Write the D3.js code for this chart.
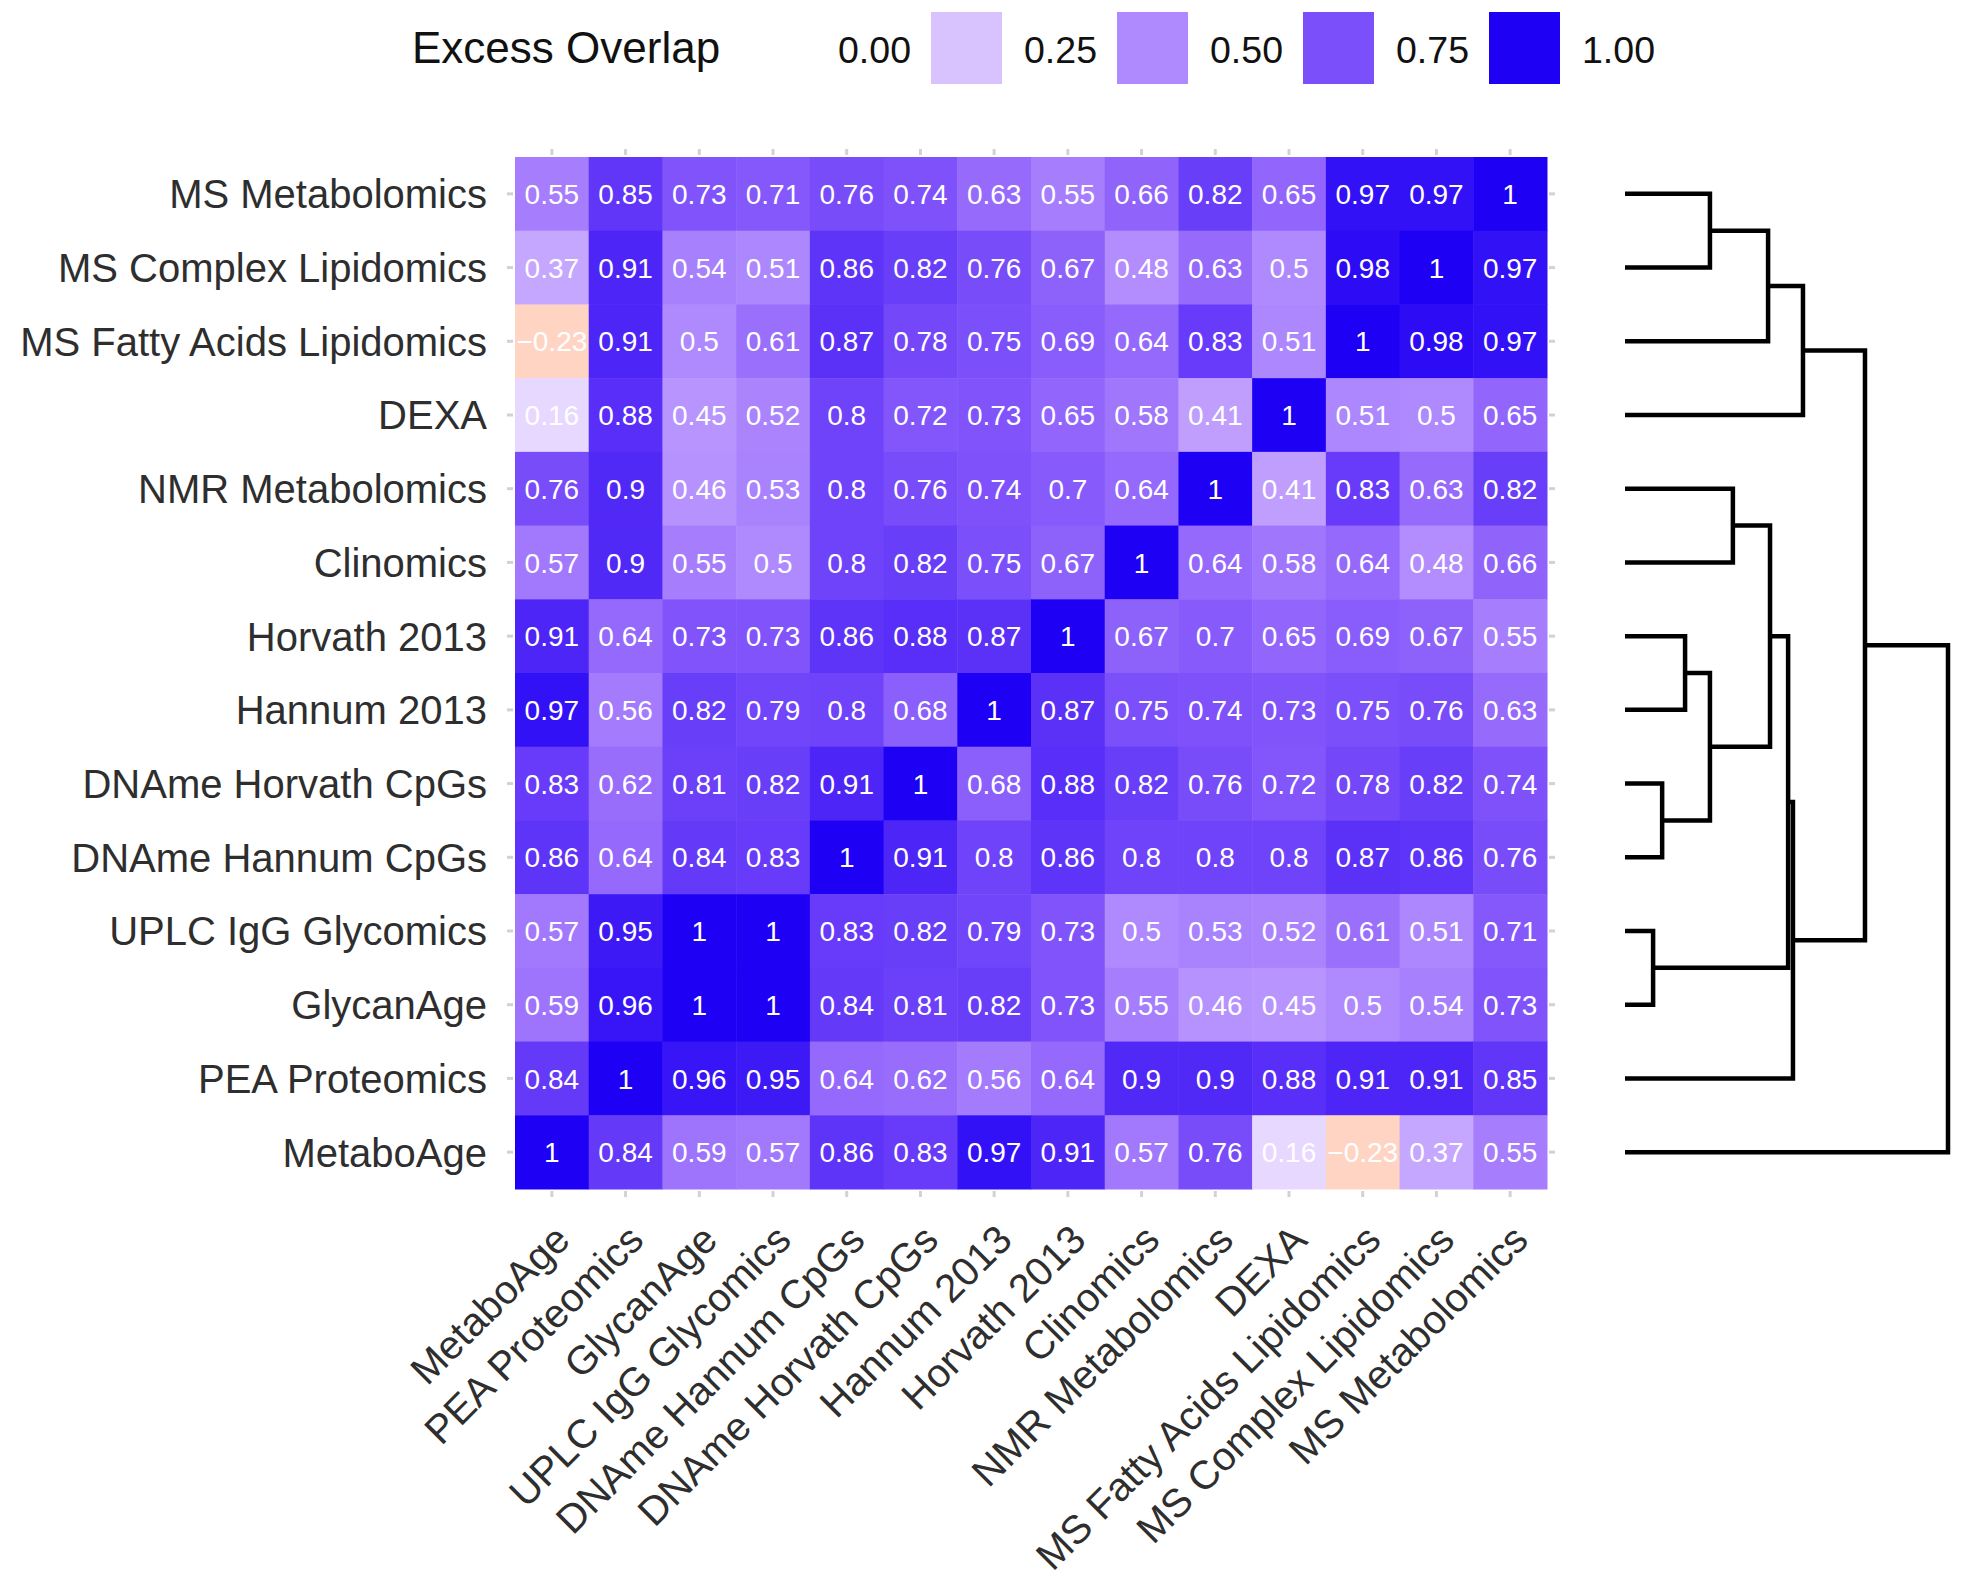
<!DOCTYPE html>
<html>
<head>
<meta charset="utf-8">
<script src="https://cdn.jsdelivr.net/npm/d3@7"></script>
<style>
  body { margin: 0; background: #fff; }
  text { font-family: "Liberation Sans", Arial, sans-serif; }
</style>
</head>
<body>
<div id="chart"></div>
<script>
// column order (x axis, left to right)
const cols = ["MetaboAge", "PEA Proteomics", "GlycanAge", "UPLC IgG Glycomics",
  "DNAme Hannum CpGs", "DNAme Horvath CpGs", "Hannum 2013", "Horvath 2013",
  "Clinomics", "NMR Metabolomics", "DEXA", "MS Fatty Acids Lipidomics",
  "MS Complex Lipidomics", "MS Metabolomics"];

// row order (y axis, top to bottom)
const rows = ["MS Metabolomics", "MS Complex Lipidomics", "MS Fatty Acids Lipidomics",
  "DEXA", "NMR Metabolomics", "Clinomics", "Horvath 2013", "Hannum 2013",
  "DNAme Horvath CpGs", "DNAme Hannum CpGs", "UPLC IgG Glycomics", "GlycanAge",
  "PEA Proteomics", "MetaboAge"];

// excess overlap, one line per row (same order as rows), values in column order
const overlap = [
  [0.55, 0.85, 0.73, 0.71, 0.76, 0.74, 0.63, 0.55, 0.66, 0.82, 0.65, 0.97, 0.97, 1],
  [0.37, 0.91, 0.54, 0.51, 0.86, 0.82, 0.76, 0.67, 0.48, 0.63, 0.5, 0.98, 1, 0.97],
  [-0.23, 0.91, 0.5, 0.61, 0.87, 0.78, 0.75, 0.69, 0.64, 0.83, 0.51, 1, 0.98, 0.97],
  [0.16, 0.88, 0.45, 0.52, 0.8, 0.72, 0.73, 0.65, 0.58, 0.41, 1, 0.51, 0.5, 0.65],
  [0.76, 0.9, 0.46, 0.53, 0.8, 0.76, 0.74, 0.7, 0.64, 1, 0.41, 0.83, 0.63, 0.82],
  [0.57, 0.9, 0.55, 0.5, 0.8, 0.82, 0.75, 0.67, 1, 0.64, 0.58, 0.64, 0.48, 0.66],
  [0.91, 0.64, 0.73, 0.73, 0.86, 0.88, 0.87, 1, 0.67, 0.7, 0.65, 0.69, 0.67, 0.55],
  [0.97, 0.56, 0.82, 0.79, 0.8, 0.68, 1, 0.87, 0.75, 0.74, 0.73, 0.75, 0.76, 0.63],
  [0.83, 0.62, 0.81, 0.82, 0.91, 1, 0.68, 0.88, 0.82, 0.76, 0.72, 0.78, 0.82, 0.74],
  [0.86, 0.64, 0.84, 0.83, 1, 0.91, 0.8, 0.86, 0.8, 0.8, 0.8, 0.87, 0.86, 0.76],
  [0.57, 0.95, 1, 1, 0.83, 0.82, 0.79, 0.73, 0.5, 0.53, 0.52, 0.61, 0.51, 0.71],
  [0.59, 0.96, 1, 1, 0.84, 0.81, 0.82, 0.73, 0.55, 0.46, 0.45, 0.5, 0.54, 0.73],
  [0.84, 1, 0.96, 0.95, 0.64, 0.62, 0.56, 0.64, 0.9, 0.9, 0.88, 0.91, 0.91, 0.85],
  [1, 0.84, 0.59, 0.57, 0.86, 0.83, 0.97, 0.91, 0.57, 0.76, 0.16, -0.23, 0.37, 0.55]
];

// legend breaks
const legendBreaks = [0, 0.25, 0.5, 0.75, 1];

// dendrogram, hclust style: negative = leaf (1-based index into rows), positive = earlier merge
const merges = [
  [-1, -2], [1, -3], [2, -4], [-5, -6], [-7, -8], [-9, -10], [5, 6],
  [4, 7], [-11, -12], [8, 9], [10, -13], [3, 11], [12, -14]
];
const mergeHeights = [0.263, 0.443, 0.551, 0.334, 0.186, 0.115, 0.263,
  0.449, 0.087, 0.505, 0.52, 0.743, 1.0];

const W = 1965, H = 1586;
const svg = d3.select("#chart").append("svg")
  .attr("width", W).attr("height", H);

const x = d3.scaleBand().domain(cols).range([515, 1547]);
const y = d3.scaleBand().domain(rows).range([157, 1189]);
const color = d3.scaleLinear().domain([-1, 0, 1])
  .range(["red", "white", "#1e00f5"]).interpolate(d3.interpolateLab);
const fmt = v => String(v).replace("-", "\u2212");

// tiles
const cells = [];
rows.forEach((r, i) => cols.forEach((c, j) => cells.push({ r, c, v: overlap[i][j] })));

svg.append("g").selectAll("rect")
  .data(cells).join("rect")
  .attr("x", d => x(d.c)).attr("y", d => y(d.r))
  .attr("width", x.bandwidth() + 0.5).attr("height", y.bandwidth() + 0.5)
  .attr("fill", d => color(d.v));

svg.append("g").selectAll("text")
  .data(cells).join("text")
  .attr("x", d => x(d.c) + x.bandwidth() / 2)
  .attr("y", d => y(d.r) + y.bandwidth() / 2)
  .attr("dy", "0.36em")
  .attr("text-anchor", "middle")
  .attr("font-size", 28)
  .attr("fill", "white")
  .text(d => fmt(d.v));

// little grey ticks on every side
const tickCol = "#d2d2d2";
const ticks = svg.append("g").attr("stroke", tickCol).attr("stroke-width", 3);
cols.forEach(c => {
  const cx = x(c) + x.bandwidth() / 2;
  ticks.append("line").attr("x1", cx).attr("x2", cx).attr("y1", 149).attr("y2", 155);
  ticks.append("line").attr("x1", cx).attr("x2", cx).attr("y1", 1191).attr("y2", 1197);
});
rows.forEach(r => {
  const cy = y(r) + y.bandwidth() / 2;
  ticks.append("line").attr("x1", 507).attr("x2", 513).attr("y1", cy).attr("y2", cy);
  ticks.append("line").attr("x1", 1549).attr("x2", 1555).attr("y1", cy).attr("y2", cy);
});

// y axis labels
svg.append("g").selectAll("text")
  .data(rows).join("text")
  .attr("x", 487)
  .attr("y", d => y(d) + y.bandwidth() / 2)
  .attr("dy", "0.36em")
  .attr("text-anchor", "end")
  .attr("font-size", 40)
  .attr("fill", "#2e2e2e")
  .text(d => d);

// x axis labels, rotated 45
svg.append("g").selectAll("text")
  .data(cols).join("text")
  .attr("transform", d => `translate(${x(d) + x.bandwidth() / 2}, 1222) rotate(-45)`)
  .attr("dy", "0.71em")
  .attr("text-anchor", "end")
  .attr("font-size", 40)
  .attr("fill", "#2e2e2e")
  .text(d => d);

// legend
const lx = d3.scaleLinear().domain([0, legendBreaks.length - 1]).range([745, 1489]);
const legend = svg.append("g");
legend.append("text")
  .attr("x", 412).attr("y", 63)
  .attr("font-size", 44)
  .attr("fill", "#111")
  .text("Excess Overlap");
legend.selectAll("rect")
  .data(legendBreaks).join("rect")
  .attr("x", (d, i) => lx(i)).attr("y", 12)
  .attr("width", 71).attr("height", 72)
  .attr("fill", d => color(d));
legend.selectAll("text.lab")
  .data(legendBreaks).join("text")
  .attr("class", "lab")
  .attr("x", (d, i) => lx(i) + 93).attr("y", 63)
  .attr("font-size", 37.5)
  .attr("fill", "#111")
  .text(d => d3.format(".2f")(d));

// dendrogram
const hx = d3.scaleLinear().domain([0, 1]).range([1625, 1948]);
const nodes = [];
const pos = id => id < 0
  ? { y: y(rows[-id - 1]) + y.bandwidth() / 2, h: 0 }
  : nodes[id - 1];
merges.forEach((m, i) => {
  const a = pos(m[0]), b = pos(m[1]), h = mergeHeights[i];
  nodes.push({ a, b, h, y: (a.y + b.y) / 2 });
});
svg.append("g").selectAll("path")
  .data(nodes).join("path")
  .attr("d", d => `M${hx(d.a.h)},${d.a.y}H${hx(d.h)}V${d.b.y}H${hx(d.b.h)}`)
  .attr("fill", "none")
  .attr("stroke", "black")
  .attr("stroke-width", 4.5);
</script>
</body>
</html>
